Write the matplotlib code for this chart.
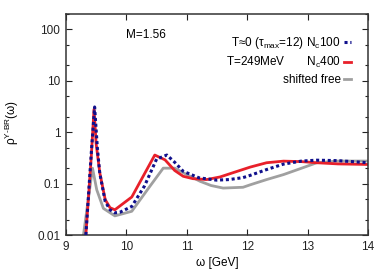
"""
Spectral function rho^{Y-BR}(omega) at M=1.56: T~0 vs T=249 MeV vs shifted free.
"""
import matplotlib
matplotlib.use("Agg")
import matplotlib.pyplot as plt
import matplotlib.ticker as ticker

plt.rcParams["font.family"] = ["Liberation Sans", "DejaVu Sans"]
plt.rcParams["mathtext.fontset"] = "custom"
plt.rcParams["mathtext.rm"] = "Liberation Sans"
plt.rcParams["mathtext.it"] = "Liberation Sans"

# ── data ─────────────────────────────────────────────────
omega_t0 = [9.30, 9.33, 9.42, 9.475, 9.52, 9.56, 9.65, 9.73, 9.81, 9.90,
            10.09, 10.30, 10.50, 10.67, 10.80, 10.94, 11.20, 11.49, 11.70,
            11.93, 12.05, 12.32, 12.60, 12.90, 13.15, 13.50, 13.80, 14.00]
rho_t0 = [0.006, 0.010, 0.40, 3.1, 0.50, 0.16, 0.045, 0.031, 0.027, 0.028,
          0.036, 0.090, 0.30, 0.36, 0.26, 0.174, 0.130, 0.117, 0.120,
          0.131, 0.145, 0.188, 0.240, 0.275, 0.286, 0.280, 0.265, 0.255]

omega_t249 = [9.31, 9.33, 9.42, 9.465, 9.50, 9.56, 9.65, 9.73, 9.81, 10.09,
              10.47, 10.64, 10.80, 10.94, 11.10, 11.33, 11.55, 11.77, 12.05,
              12.32, 12.60, 12.90, 13.15, 13.50, 14.00]
rho_t249 = [0.006, 0.010, 0.34, 2.8, 0.60, 0.164, 0.049, 0.034, 0.031, 0.055,
            0.36, 0.29, 0.18, 0.139, 0.125, 0.120, 0.135, 0.164, 0.210,
            0.255, 0.274, 0.268, 0.255, 0.242, 0.236]

omega_free = [9.27, 9.29, 9.44, 9.51, 9.62, 9.81, 10.09, 10.39, 10.61, 10.80,
              11.00, 11.22, 11.40, 11.60, 11.93, 12.05, 12.32, 12.60, 12.90,
              13.15, 13.50, 14.00]
rho_free = [0.006, 0.010, 0.20, 0.076, 0.033, 0.0236, 0.029, 0.089, 0.20, 0.20,
            0.150, 0.111, 0.092, 0.082, 0.085, 0.095, 0.120, 0.150, 0.200,
            0.255, 0.275, 0.275]

label_t0 = r"T≈0 (τ$_{\rm max}$=12) N$_{\rm c}$100"
label_t249 = r"T=249MeV       N$_{\rm c}$400"
label_free = "shifted free"

yticks = [0.01, 0.1, 1, 10, 100]
yticklabels = ["0.01", "0.1", "1", "10", "100"]
xticks = [9, 10, 11, 12, 13, 14]

fig = plt.figure(figsize=(3.9, 2.73), dpi=100)
ax = fig.add_axes([0.169, 0.139, 0.775, 0.810])

ax.plot(omega_t0, rho_t0, color="#10108c", lw=2.2, ls=(0, (1, 0.9)),
        label=label_t0, zorder=3)
ax.plot(omega_t249, rho_t249, color="#e8202a", lw=2.0, label=label_t249, zorder=2)
ax.plot(omega_free, rho_free, color="#a0a0a0", lw=2.0, label=label_free, zorder=1)

ax.set_yscale("log")
ax.set_xlim(9, 14)
ax.set_ylim(0.01, 200)
ax.set_xticks(xticks)
ax.set_yticks(yticks)
ax.set_yticklabels(yticklabels)
ax.yaxis.set_minor_locator(ticker.LogLocator(base=10, subs=(2, 5)))
ax.yaxis.set_minor_formatter(ticker.NullFormatter())
ax.tick_params(which="both", direction="in", top=True, right=True,
               labelsize=8.5, colors="#222222", pad=4)
ax.tick_params(which="major", length=4, width=0.8)
ax.tick_params(which="minor", length=2.5, width=0.8)
for sp in ax.spines.values():
    sp.set_linewidth(1.1)
    sp.set_color("#333333")

ax.set_xlabel("ω [GeV]", fontsize=8.5, labelpad=3)
ax.set_ylabel(r"ρ$^{\rm Y\text{-}BR}$(ω)", fontsize=8.5)
ax.yaxis.set_label_coords(-0.15, 0.51)

ax.text(0.20, 0.905, "M=1.56", transform=ax.transAxes, fontsize=8.5,
        ha="left", va="center")

ax.legend(loc="upper right", bbox_to_anchor=(0.944, 0.905), frameon=False,
          markerfirst=False, fontsize=8.5, handlelength=0.65,
          handletextpad=0.25, labelspacing=0.35, borderpad=0,
          borderaxespad=0)

fig.savefig("out.png", dpi=100)
